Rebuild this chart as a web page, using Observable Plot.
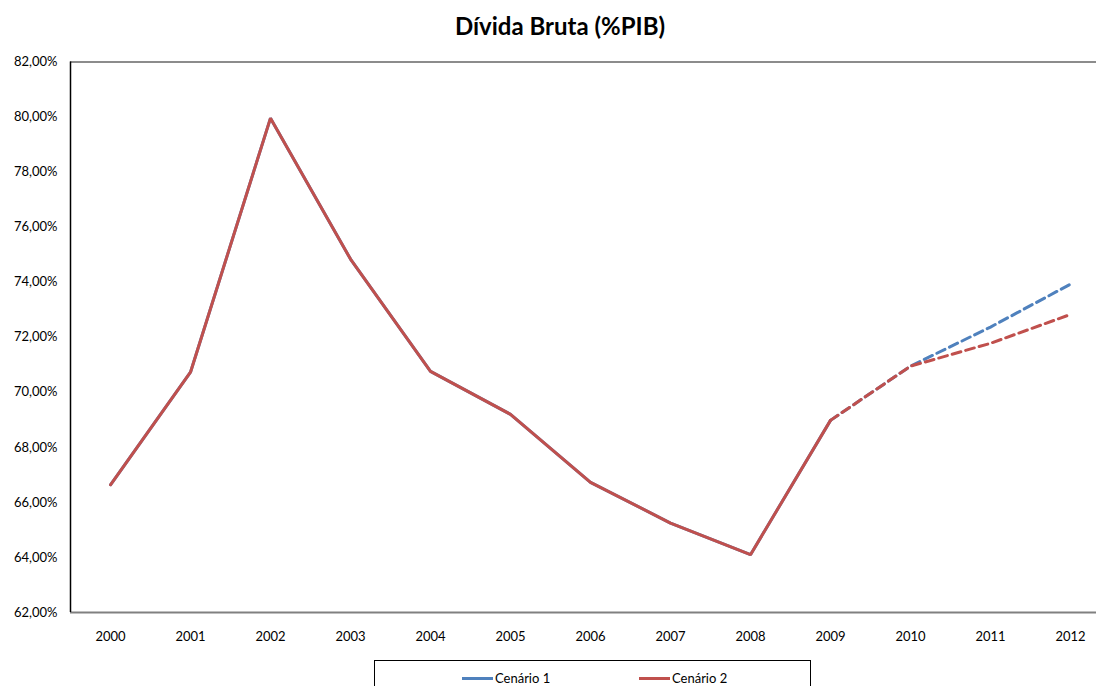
<!DOCTYPE html>
<html>
<head>
<meta charset="utf-8">
<script src="https://cdn.jsdelivr.net/npm/d3@7"></script>
<script src="https://cdn.jsdelivr.net/npm/@observablehq/plot@0.6"></script>
<style>
  html, body { margin: 0; padding: 0; background: #fff; overflow: hidden; }
  #wrap { position: relative; width: 1096px; height: 686px; font-family: Lato, "Open Sans", sans-serif; }
  #title { position: absolute; left: 0; width: 1120px; top: 11px; text-align: center; font-size: 24px; font-weight: bold; color: #000; }
  #chart { position: absolute; left: 0; top: 45px; }
  #legend { position: absolute; left: 374px; top: 660px; width: 437px; height: 40px; border: 1px solid #000; box-sizing: border-box; }
  .item { position: absolute; top: 9px; font-size: 13px; color: #000; display: flex; align-items: center; }
  .swatch { display: inline-block; width: 31px; height: 3px; margin-right: 2px; }
</style>
</head>
<body>
<div id="wrap">
  <div id="title">Dívida Bruta (%PIB)</div>
  <div id="chart"></div>
  <div id="legend"></div>
</div>
<script>
const years = [2000, 2001, 2002, 2003, 2004, 2005, 2006, 2007, 2008, 2009, 2010, 2011, 2012];
const cenario1 = [66.64, 70.73, 79.96, 74.84, 70.76, 69.20, 66.73, 65.25, 64.10, 68.98, 70.95, 72.37, 73.93];
const cenario2 = [66.64, 70.73, 79.96, 74.84, 70.76, 69.20, 66.73, 65.25, 64.10, 68.98, 70.95, 71.78, 72.83];
const seriesNames = ["Cenário 1", "Cenário 2"];
const seriesColors = ["#4F81BD", "#C0504D"];
const lastActualYear = 2009;
const yTicks = [62, 64, 66, 68, 70, 72, 74, 76, 78, 80, 82];

const seriesValues = [cenario1, cenario2];
const marks = [];
seriesNames.forEach((name, si) => {
  const rows = years.map((yr, i) => ({year: yr, value: seriesValues[si][i], series: name}));
  const actual = rows.filter(d => d.year <= lastActualYear);
  const proj = rows.filter(d => d.year >= lastActualYear);
  marks.push(Plot.line(actual, {x: "year", y: "value", stroke: seriesColors[si], strokeWidth: 3, strokeLinejoin: "miter"}));
  marks.push(Plot.line(proj, {x: "year", y: "value", stroke: seriesColors[si], strokeWidth: 3, strokeDasharray: "9,5"}));
});

const fmt = d => d.toFixed(2).replace(".", ",") + "%";

const chart = Plot.plot({
  width: 1096,
  height: 607,
  marginLeft: 70,
  marginRight: 0,
  marginTop: 16.5,
  marginBottom: 40,
  style: {fontFamily: "Lato, 'Open Sans', sans-serif", fontSize: "13px", color: "#000", background: "#fff"},
  x: {type: "point", domain: years, range: [70, 1110], padding: 0.5},
  y: {domain: [62, 82]},
  marks: [
    Plot.ruleY([82], {stroke: "#666", strokeWidth: 1.5}),
    Plot.ruleY([62], {stroke: "#808080", strokeWidth: 2}),
    Plot.ruleX([years[0]], {dx: -40, stroke: "#000", strokeWidth: 1.5}),
    Plot.axisY({ticks: yTicks, tickFormat: fmt, tickSize: 0, tickPadding: 13, label: null, fill: "#000"}),
    Plot.axisX({tickSize: 0, tickPadding: 19, tickFormat: d => String(d), label: null, fill: "#000"}),
    ...marks
  ]
});
document.getElementById("chart").appendChild(chart);

const legend = document.getElementById("legend");
const legendLeft = [87, 264];
seriesNames.forEach((name, i) => {
  const item = document.createElement("div");
  item.className = "item";
  item.style.left = legendLeft[i] + "px";
  const sw = document.createElement("span");
  sw.className = "swatch";
  sw.style.background = seriesColors[i];
  item.appendChild(sw);
  item.appendChild(document.createTextNode(name));
  legend.appendChild(item);
});
</script>
</body>
</html>
